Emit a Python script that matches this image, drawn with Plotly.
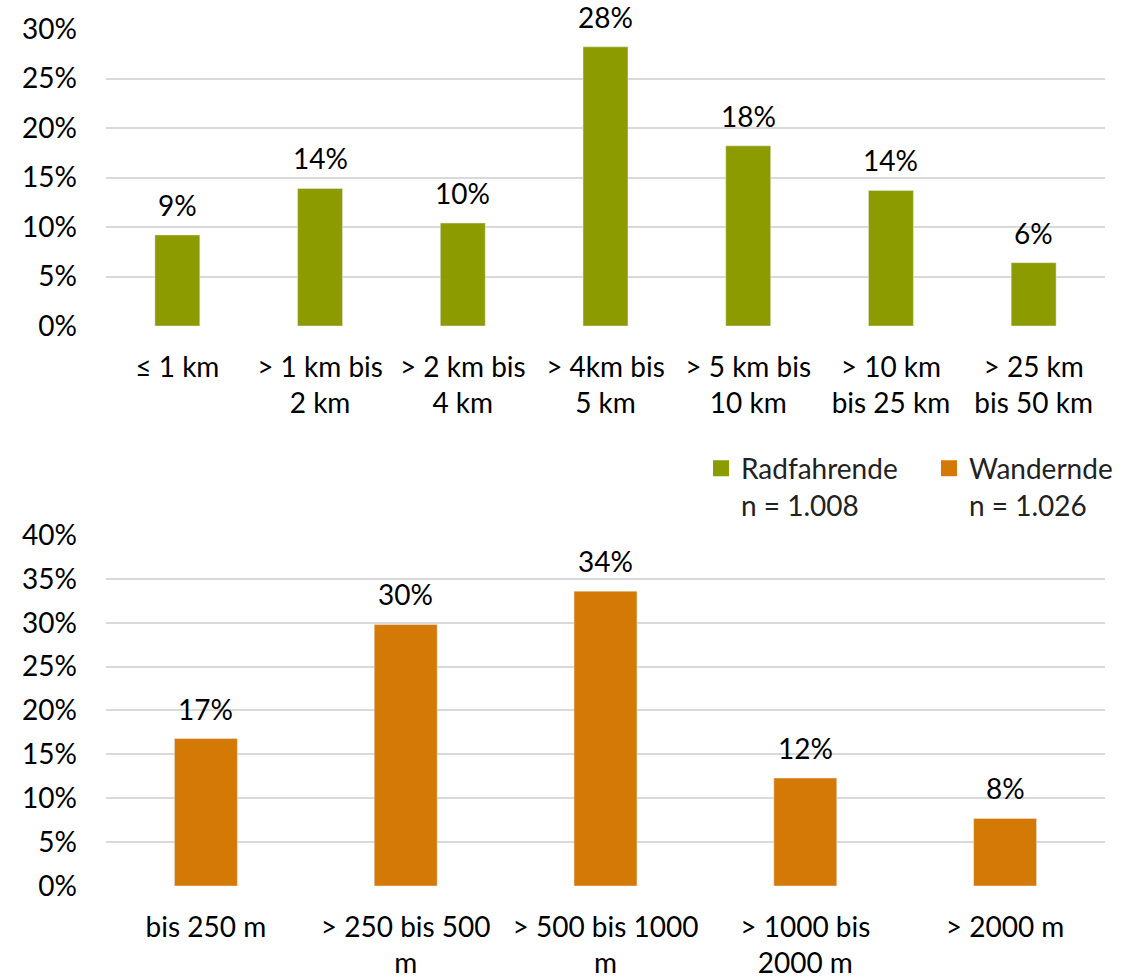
import plotly.graph_objects as go

# ---- data ----
rad_categories = ["≤ 1 km", "> 1 km bis<br>2 km", "> 2 km bis<br>4 km", "> 4km bis<br>5 km",
                  "> 5 km bis<br>10 km", "> 10 km<br>bis 25 km", "> 25 km<br>bis 50 km"]
rad_values = [9.2, 13.9, 10.4, 28.2, 18.2, 13.7, 6.4]

wan_categories = ["bis 250 m", "> 250 bis 500<br>m", "> 500 bis 1000<br>m",
                  "> 1000 bis<br>2000 m", "> 2000 m"]
wan_values = [16.8, 29.8, 33.6, 12.3, 7.7]

rad_label = "Radfahrende<br>n = 1.008"
wan_label = "Wandernde<br>n = 1.026"

GREEN = "#8B9B00"
ORANGE = "#D47806"
FONT = "Lato"
FS = 28
GRID = "#D9D9D9"

fig = go.Figure()
fig.add_trace(go.Bar(x=rad_categories, y=rad_values, marker_color=GREEN,
                     xaxis="x", yaxis="y", showlegend=False))
fig.add_trace(go.Bar(x=wan_categories, y=wan_values, marker_color=ORANGE,
                     xaxis="x2", yaxis="y2", showlegend=False))
# legend entries (two separate legends so their spacing can be set freely)
fig.add_trace(go.Scatter(x=[None], y=[None], mode="markers", name=rad_label,
                         marker=dict(symbol="square", size=16, color=GREEN),
                         xaxis="x2", yaxis="y2", legend="legend"))
fig.add_trace(go.Scatter(x=[None], y=[None], mode="markers", name=wan_label,
                         marker=dict(symbol="square", size=16, color=ORANGE),
                         xaxis="x2", yaxis="y2", legend="legend2"))

annotations = []
for c, v in zip(rad_categories, rad_values):
    annotations.append(dict(x=c, y=v, xref="x", yref="y", text=f"{round(v)}%",
                            showarrow=False, yanchor="bottom", yshift=11,
                            font=dict(family=FONT, size=FS, color="#000")))
for c, v in zip(wan_categories, wan_values):
    annotations.append(dict(x=c, y=v, xref="x2", yref="y2", text=f"{round(v)}%",
                            showarrow=False, yanchor="bottom", yshift=11,
                            font=dict(family=FONT, size=FS, color="#000")))

axis_common = dict(showline=False, zeroline=False, showgrid=False,
                   tickfont=dict(family=FONT, size=FS, color="#000"), fixedrange=True)
yaxis_common = dict(showline=False, zeroline=False, showgrid=True, gridcolor=GRID,
                    gridwidth=1.5, ticksuffix="%", dtick=5,
                    tickfont=dict(family=FONT, size=FS, color="#000"),
                    ticklabelstandoff=28, automargin=False)
legend_common = dict(orientation="v", xanchor="left", yanchor="top", valign="top",
                     font=dict(family=FONT, size=28, color="#222"),
                     bgcolor="rgba(0,0,0,0)")

fig.update_layout(
    width=1132, height=979,
    margin=dict(l=106, r=27, t=29, b=93),
    paper_bgcolor="white", plot_bgcolor="white",
    bargap=0.685,
    font=dict(family=FONT, size=FS, color="#000"),
    xaxis=dict(axis_common, domain=[0, 1], anchor="y", range=[-0.5, 6.5],
               ticklabelstandoff=22, automargin=False),
    yaxis=dict(yaxis_common, domain=[0.6534, 1], anchor="x", range=[0, 30]),
    xaxis2=dict(axis_common, domain=[0, 1], anchor="y2", range=[-0.5, 4.5],
                ticklabelstandoff=22, automargin=False),
    yaxis2=dict(yaxis_common, domain=[0, 0.4096], anchor="x2", range=[0, 40]),
    annotations=annotations,
    showlegend=True,
    legend=dict(legend_common, x=0.5956, y=0.5163),
    legend2=dict(legend_common, x=0.8238, y=0.5163),
)

fig.write_html("out.html")
